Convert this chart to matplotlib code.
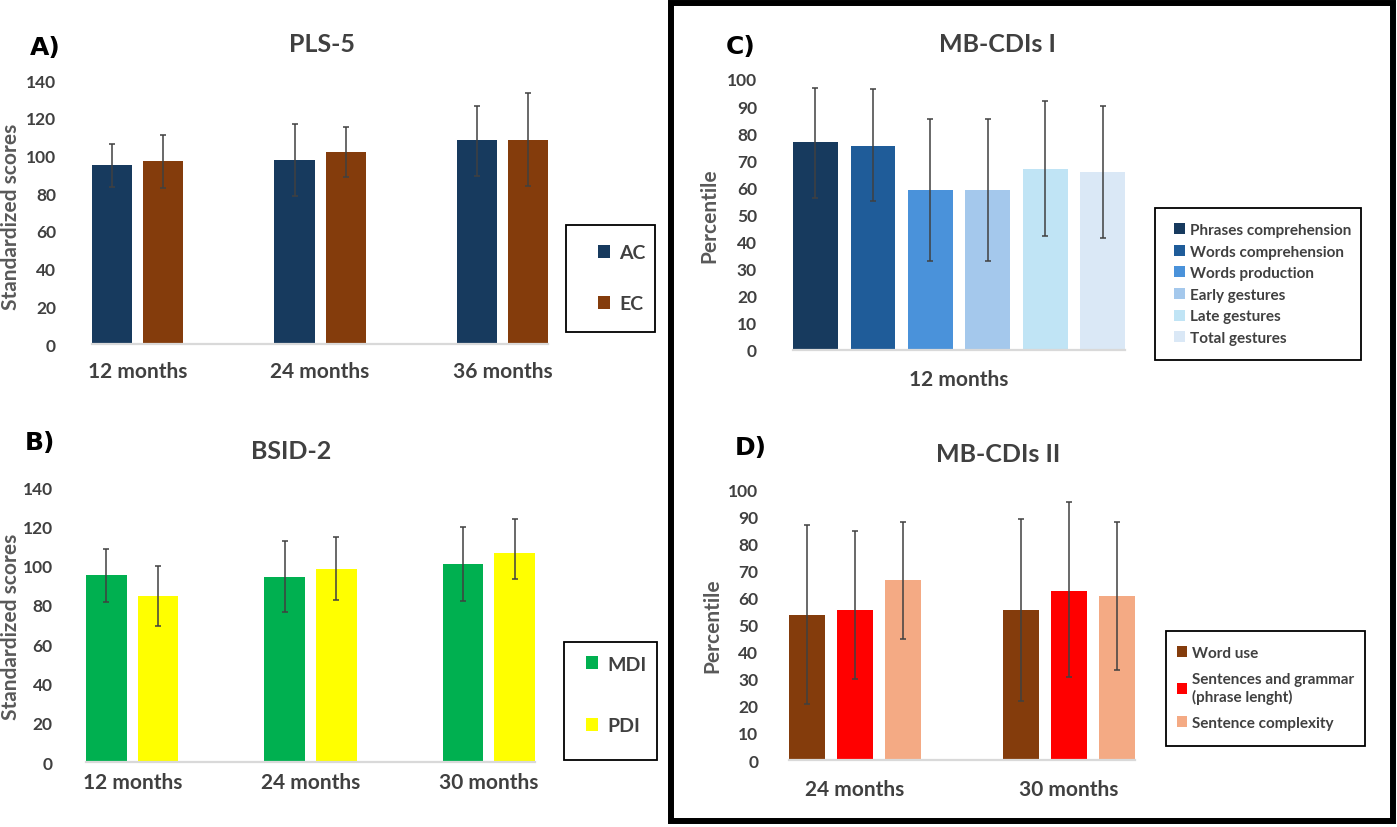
import matplotlib
matplotlib.use("Agg")
import matplotlib.pyplot as plt
import numpy as np
from matplotlib.patches import Rectangle

plt.rcParams['font.family'] = ['Lato', 'DejaVu Sans']

# ---- data ----
# A) PLS-5
pls_groups = ['12 months', '24 months', '36 months']
ac_mean = [94.7, 97.7, 108.3]
ac_lo = [83.5, 78.7, 89.3]
ac_hi = [105.9, 116.7, 126.3]
ec_mean = [97.0, 101.8, 108.3]
ec_lo = [82.9, 88.5, 83.8]
ec_hi = [110.8, 115.1, 133.0]

# B) BSID-2
bsid_groups = ['12 months', '24 months', '30 months']
mdi_mean = [95.3, 94.2, 100.7]
mdi_lo = [81.7, 76.4, 82.0]
mdi_hi = [108.5, 112.7, 119.8]
pdi_mean = [84.6, 98.3, 106.4]
pdi_lo = [69.2, 82.4, 93.1]
pdi_hi = [100.0, 114.4, 123.7]

# C) MB-CDIs I (12 months)
cdi1_labels = ['Phrases comprehension', 'Words comprehension', 'Words production',
               'Early gestures', 'Late gestures', 'Total gestures']
cdi1_mean = [76.6, 75.4, 58.9, 58.9, 66.8, 65.7]
cdi1_lo = [56.2, 54.9, 33.0, 33.0, 41.9, 41.5]
cdi1_hi = [96.6, 96.3, 85.2, 85.2, 92.0, 90.2]

# D) MB-CDIs II
cdi2_groups = ['24 months', '30 months']
cdi2_labels = ['Word use', 'Sentences and grammar\n(phrase lenght)', 'Sentence complexity']
word_use = [53.4, 55.2]
word_use_lo = [20.6, 21.9]
word_use_hi = [86.8, 89.0]
sent_gram = [55.5, 62.4]
sent_gram_lo = [29.8, 30.5]
sent_gram_hi = [84.4, 95.3]
sent_comp = [66.3, 60.5]
sent_comp_lo = [44.6, 33.3]
sent_comp_hi = [87.9, 87.9]

TXT = '#404040'
ERR = dict(ecolor='#404040', elinewidth=1.1, capsize=2.3, capthick=1.1)


def err(mean, lo, hi):
    m = np.array(mean)
    return [m - np.array(lo), np.array(hi) - m]


def style(ax, ylim, yticks, ypad, xpad, ylabel, lab_xy):
    ax.set_ylim(*ylim)
    ax.set_yticks(yticks)
    for s in ['top', 'right', 'left']:
        ax.spines[s].set_visible(False)
    ax.spines['bottom'].set_color('#D9D9D9')
    ax.spines['bottom'].set_linewidth(1.6)
    ax.tick_params(axis='y', length=0, pad=ypad, labelsize=12.5, labelcolor=TXT)
    ax.tick_params(axis='x', length=0, pad=xpad, labelsize=15, labelcolor=TXT)
    for t in ax.get_yticklabels() + ax.get_xticklabels():
        t.set_fontweight('bold')
    ax.set_ylabel(ylabel, fontsize=15, fontweight='bold', color='#595959')
    ax.yaxis.set_label_coords(*lab_xy)
    ax.set_facecolor('none')


def box(fig, x0, y0, x1, y1, lw=1.3):
    W, H = 1397, 828
    fig.patches.append(Rectangle((x0 / W, 1 - y1 / H), (x1 - x0) / W, (y1 - y0) / H,
                                 transform=fig.transFigure, fill=False,
                                 edgecolor='black', linewidth=lw))


def figxy(x, y):
    return x / 1397, 1 - y / 828


fig = plt.figure(figsize=(13.97, 8.28), dpi=100)

# ---------- A ----------
axA = fig.add_axes([0.0659, 0.5833, 0.3264, 0.3188])
x = np.arange(len(pls_groups))
bA1 = axA.bar(x - 0.14, ac_mean, 0.22, color='#173A5E', yerr=err(ac_mean, ac_lo, ac_hi), error_kw=ERR)
bA2 = axA.bar(x + 0.14, ec_mean, 0.22, color='#843C0C', yerr=err(ec_mean, ec_lo, ec_hi), error_kw=ERR)
axA.set_xlim(-0.25, 2.25)
axA.set_xticks(x, pls_groups)
style(axA, (0, 140), range(0, 141, 20), 26, 12, 'Standardized scores', (-0.156, 0.485))
fig.legend(handles=[bA1, bA2], labels=['AC', 'EC'], loc='center left',
           bbox_to_anchor=figxy(580, 279), frameon=False,
           labelspacing=1.75, handlelength=0.65, handleheight=0.65, handletextpad=0.45,
           labelcolor=TXT, prop={'weight': 'bold', 'size': 14})
box(fig, 566, 226, 655, 333)

# ---------- B ----------
axB = fig.add_axes([0.0616, 0.0785, 0.3214, 0.3321])
x = np.arange(len(bsid_groups))
bB1 = axB.bar(x - 0.145, mdi_mean, 0.228, color='#00B050', yerr=err(mdi_mean, mdi_lo, mdi_hi), error_kw=ERR)
bB2 = axB.bar(x + 0.145, pdi_mean, 0.228, color='#FFFF00', yerr=err(pdi_mean, pdi_lo, pdi_hi), error_kw=ERR)
axB.set_xlim(-0.259, 2.259)
axB.set_xticks(x, bsid_groups)
style(axB, (0, 140), range(0, 141, 20), 24, 7, 'Standardized scores', (-0.145, 0.495))
fig.legend(handles=[bB1, bB2], labels=['MDI', 'PDI'], loc='center left',
           bbox_to_anchor=figxy(568, 696), frameon=False,
           labelspacing=2.3, handlelength=0.65, handleheight=0.65, handletextpad=0.45,
           labelcolor=TXT, prop={'weight': 'bold', 'size': 14})
box(fig, 564, 643, 657, 761)

# ---------- C ----------
axC = fig.add_axes([0.5677, 0.5761, 0.2377, 0.3273])
cdi1_colors = ['#173A5E', '#1F5C99', '#4A92DA', '#A4C8EC', '#C0E4F5', '#DAE8F6']
xc = np.arange(len(cdi1_labels)) - 2.5
barsC = axC.bar(xc, cdi1_mean, 0.78, color=cdi1_colors, yerr=err(cdi1_mean, cdi1_lo, cdi1_hi), error_kw=ERR)
axC.set_xlim(-2.89, 2.89)
axC.set_xticks([0], ['12 months'])
style(axC, (0, 100), range(0, 101, 10), 26, 14, 'Percentile', (-0.222, 0.50))
fig.legend(handles=list(barsC), labels=cdi1_labels, loc='center left',
           bbox_to_anchor=figxy(1160, 285), frameon=False,
           labelspacing=0.5, handlelength=0.75, handleheight=0.75, handletextpad=0.3,
           labelcolor=TXT, prop={'weight': 'bold', 'size': 11})
box(fig, 1155, 209, 1361, 361)

# ---------- D ----------
axD = fig.add_axes([0.5648, 0.0809, 0.2477, 0.3273])
xd = np.arange(len(cdi2_groups))
d1 = axD.bar(xd - 0.224, word_use, 0.168, color='#843C0C', yerr=err(word_use, word_use_lo, word_use_hi), error_kw=ERR)
d2 = axD.bar(xd, sent_gram, 0.168, color='#FF0000', yerr=err(sent_gram, sent_gram_lo, sent_gram_hi), error_kw=ERR)
d3 = axD.bar(xd + 0.224, sent_comp, 0.168, color='#F4AA84', yerr=err(sent_comp, sent_comp_lo, sent_comp_hi), error_kw=ERR)
axD.set_xlim(-0.308, 1.308)
axD.set_xticks(xd, cdi2_groups)
style(axD, (0, 100), range(0, 101, 10), 22, 14, 'Percentile', (-0.194, 0.50))
fig.legend(handles=[d1, d2, d3], labels=cdi2_labels, loc='center left',
           bbox_to_anchor=figxy(1163, 689), frameon=False,
           labelspacing=0.8, handlelength=0.7, handleheight=0.7, handletextpad=0.3,
           labelcolor=TXT, prop={'weight': 'bold', 'size': 11})
box(fig, 1166, 632, 1365, 747)

# ---------- titles / panel letters ----------
for lab, (px, py) in [('A)', (45, 48)), ('B)', (40, 443)), ('C)', (741, 47)), ('D)', (751, 448))]:
    fig.text(*figxy(px, py), lab, ha='center', va='center', fontsize=18,
             fontweight='bold', color='black', family=['DejaVu Sans'])
for lab, (px, py) in [('PLS-5', (322, 44)), ('BSID-2', (291, 452)),
                      ('MB-CDIs I', (997, 45)), ('MB-CDIs II', (998, 455))]:
    fig.text(*figxy(px, py), lab, ha='center', va='center', fontsize=18,
             fontweight='bold', color=TXT)

# thick frame round the right half
box(fig, 671, 4, 1393, 822, lw=4.3)

fig.savefig('out.png', dpi=100)
